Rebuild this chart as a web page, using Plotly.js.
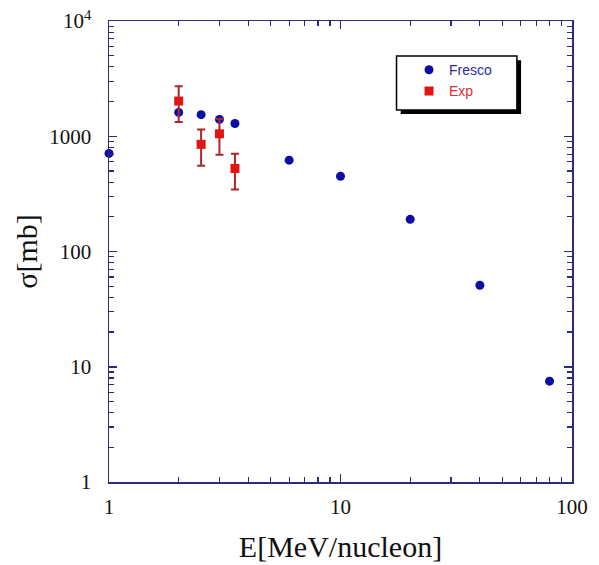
<!DOCTYPE html>
<html><head><meta charset="utf-8">
<script src="https://cdn.plot.ly/plotly-3.0.1.min.js"></script>
<style>body{margin:0;background:#fff}#plot{width:599px;height:565px}</style>
</head><body><div id="plot"></div>
<script>
// Data
const frescoE = [1, 2, 2.5, 3, 3.5, 6, 10, 20, 40, 80];
const frescoSigma = [710, 1610, 1540, 1400, 1290, 620, 450, 190, 51, 7.5];
const expE = [2, 2.5, 3, 3.5];
const expSigma = [2020, 850, 1050, 525];
const expErr = [690, 295, 360, 180];
const xTickVals = [1, 10, 100];
const xTickText = ['1', '10', '100'];
const yTickVals = [1, 10, 100, 1000, 10000];
const yTickText = ['1', '10', '100', '1000', '10<sup>4</sup>'];

const axisColor = '#2b2b7a';
const blue = '#0c0ca6';
const red = '#e41414';

const traces = [
  {x: frescoE, y: frescoSigma, type: 'scatter', mode: 'markers', name: '<span style="color:#2b2ba0">Fresco</span>',
   cliponaxis: false, marker: {color: blue, size: 9, symbol: 'circle'}},
  {x: expE, y: expSigma, type: 'scatter', mode: 'markers', name: '<span style="color:#e03030">Exp</span>',
   cliponaxis: false, marker: {color: red, size: 9, symbol: 'square'},
   error_y: {type: 'data', array: expErr, visible: true, color: '#a82828', thickness: 2, width: 4}}
];

const common = {
  type: 'log', showgrid: false, zeroline: false, linecolor: axisColor, linewidth: 1.5,
  tickcolor: axisColor, tickwidth: 1.5
};

const layout = {
  width: 599, height: 565,
  margin: {l: 109, r: 27, t: 21, b: 83},
  paper_bgcolor: '#fff', plot_bgcolor: '#fff',
  showlegend: true,
  legend: {x: 0.648, y: 0.928, xanchor: 'left', yanchor: 'top', bgcolor: 'rgba(0,0,0,0)',
    borderwidth: 0, font: {family: 'Liberation Sans, Arial', size: 14},
    tracegroupgap: 2},
  xaxis: Object.assign({}, common, {
    range: [0, 2], tickmode: 'array', tickvals: xTickVals, ticktext: xTickText,
    ticks: 'inside', ticklen: 8, mirror: 'allticks', showline: true,
    ticklabelstandoff: 5,
    minor: {ticks: 'inside', ticklen: 5, tickcolor: axisColor, tickwidth: 1.2, dtick: 'D1'},
    tickfont: {family: 'Liberation Serif, Times New Roman', size: 21, color: '#111'},
    title: {text: 'E[MeV/nucleon]', font: {family: 'Liberation Serif, Times New Roman', size: 30, color: '#111'}, standoff: 18}
  }),
  yaxis: Object.assign({}, common, {
    range: [0, 4], tickmode: 'array', tickvals: yTickVals, ticktext: yTickText,
    ticks: 'inside', ticklen: 8, mirror: 'allticks', showline: true,
    ticklabelstandoff: 12,
    minor: {ticks: 'inside', ticklen: 5, tickcolor: axisColor, tickwidth: 1.2, dtick: 'D1'},
    tickfont: {family: 'Liberation Serif, Times New Roman', size: 21, color: '#111'},
    title: {text: 'σ[mb]', font: {family: 'Liberation Serif, Times New Roman', size: 30, color: '#111'}, standoff: 3}
  }),
  xaxis2: Object.assign({}, common, {
    overlaying: 'x', anchor: 'y', side: 'bottom', range: [0, 2], tickmode: 'array', tickvals: xTickVals,
    ticks: 'outside', ticklen: 7, showticklabels: false, showline: false
  }),
  yaxis2: Object.assign({}, common, {
    overlaying: 'y', anchor: 'x', side: 'left', range: [0, 4], tickmode: 'array', tickvals: yTickVals,
    ticks: 'outside', ticklen: 7, showticklabels: false, showline: false, mirror: 'ticks'
  }),
  shapes: [
    {type: 'rect', xref: 'paper', yref: 'paper', x0: 0.630, x1: 0.890, y0: 0.798, y1: 0.915,
     fillcolor: '#000', line: {width: 0}, layer: 'below'},
    {type: 'rect', xref: 'paper', yref: 'paper', x0: 0.621, x1: 0.881, y0: 0.807, y1: 0.924,
     fillcolor: '#fff', line: {width: 1.5, color: '#000'}, layer: 'below'}
  ]
};

Plotly.newPlot('plot', traces, layout, {displayModeBar: false, staticPlot: true});
</script></body></html>
